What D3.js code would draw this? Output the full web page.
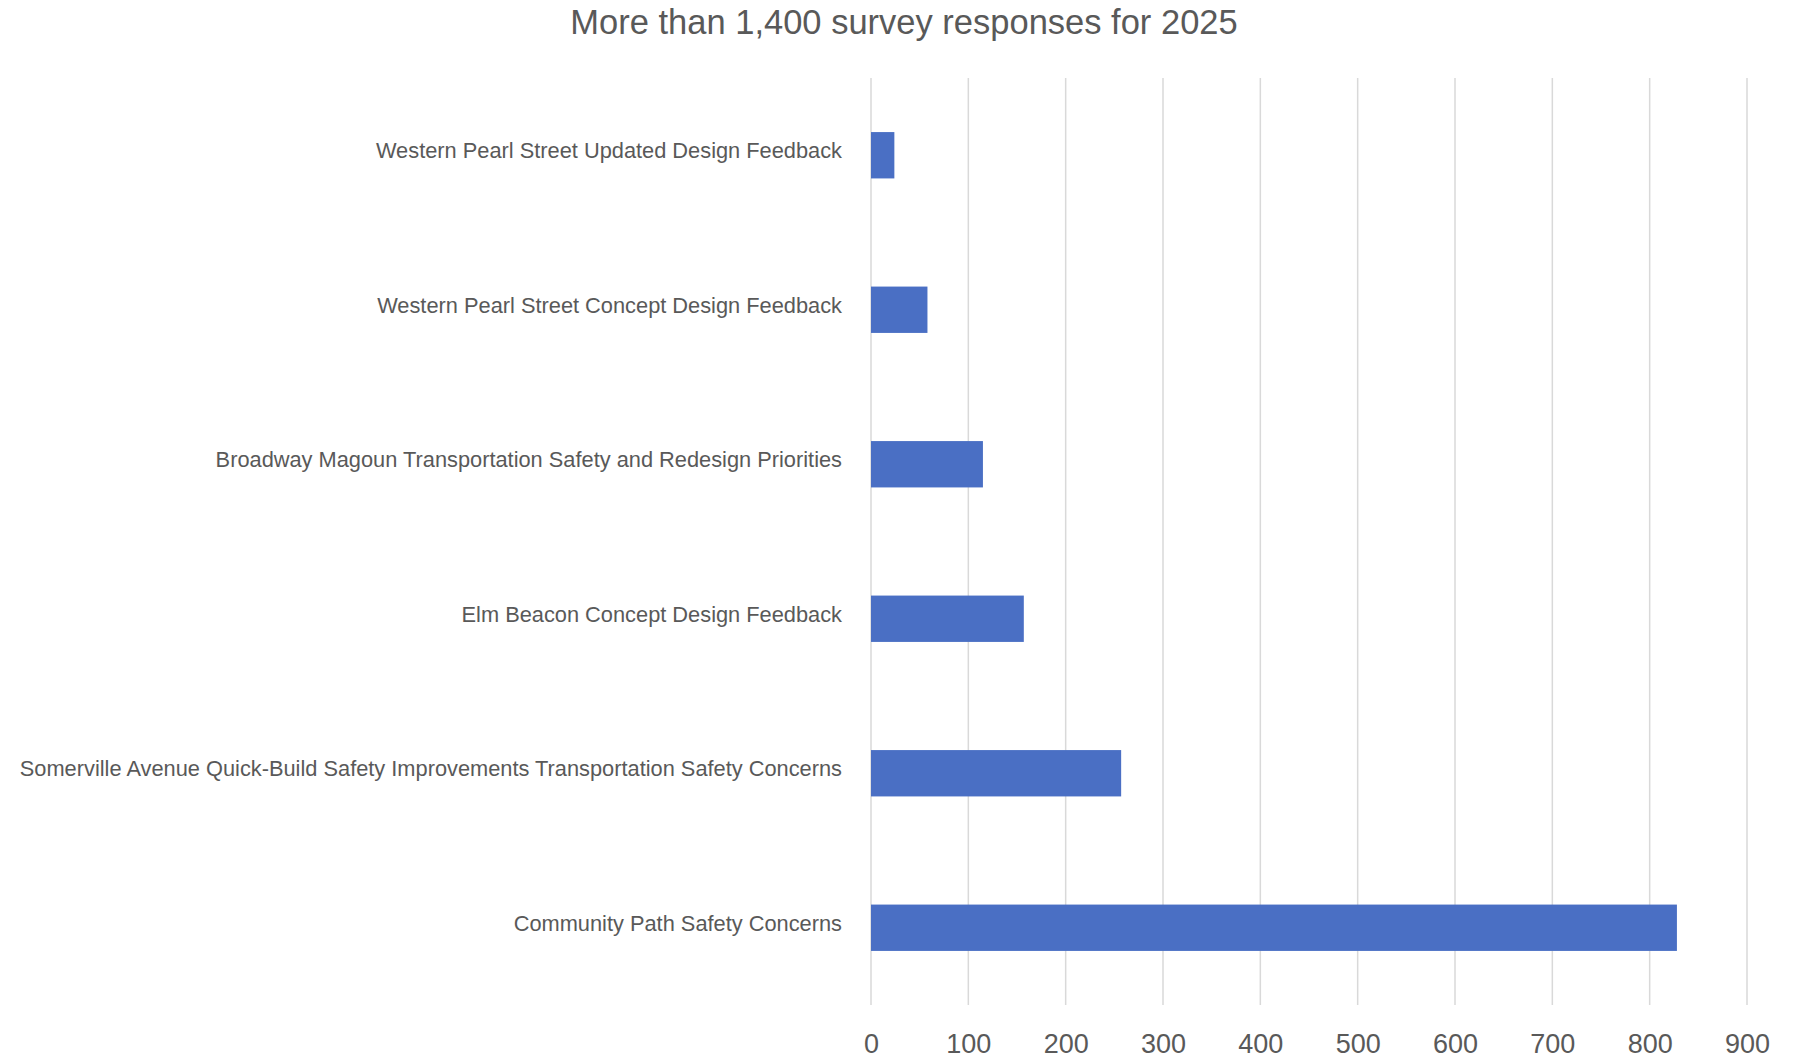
<!DOCTYPE html>
<html>
<head>
<meta charset="utf-8">
<script src="https://cdn.jsdelivr.net/npm/d3@7"></script>
<style>
	body { margin: 0; background: #fff; }
	text { font-family: "Liberation Sans", Arial, sans-serif; }
</style>
</head>
<body>
<script>
let categories = [
	'Western Pearl Street Updated Design Feedback',
	'Western Pearl Street Concept Design Feedback',
	'Broadway Magoun Transportation Safety and Redesign Priorities',
	'Elm Beacon Concept Design Feedback',
	'Somerville Avenue Quick-Build Safety Improvements Transportation Safety Concerns',
	'Community Path Safety Concerns'
]
let responses = [24, 58, 115, 157, 257, 828]
let xTicks = [0, 100, 200, 300, 400, 500, 600, 700, 800, 900]
let title = 'More than 1,400 survey responses for 2025'

let W = 1798, H = 1061
let x0 = 871, x1 = 1747
let y0 = 78, y1 = 1005

let svg = d3.select('body').append('svg')
	.attr('width', W)
	.attr('height', H)

let x = d3.scaleLinear().domain([0, 900]).range([x0, x1])
let y = d3.scaleBand().domain(categories).range([y0, y1]).paddingInner(0.70).paddingOuter(0.35)

// gridlines
svg.append('g').selectAll('line').data(xTicks).join('line')
	.attr('x1', d => x(d)).attr('x2', d => x(d))
	.attr('y1', y0).attr('y2', y1)
	.attr('stroke', '#d9d9d9').attr('stroke-width', 1.5)

// bars
svg.append('g').selectAll('rect').data(responses).join('rect')
	.attr('x', x(0))
	.attr('y', (d, i) => y(categories[i]))
	.attr('width', d => x(d) - x(0))
	.attr('height', y.bandwidth())
	.attr('fill', '#4a6fc4')

// category labels
svg.append('g').selectAll('text').data(categories).join('text')
	.attr('x', x0 - 29)
	.attr('y', d => y(d) + y.bandwidth() / 2 - 3)
	.attr('text-anchor', 'end')
	.attr('dominant-baseline', 'middle')
	.attr('font-size', 21.8)
	.attr('fill', '#595959')
	.text(d => d)

// x axis tick labels
let xAxis = d3.axisBottom(x).tickValues(xTicks).tickSize(0).tickPadding(0)
let gx = svg.append('g').attr('transform', `translate(0, ${y1 + 29})`).call(xAxis)
gx.select('.domain').remove()
gx.selectAll('text')
	.attr('font-size', 27)
	.attr('font-family', '"Liberation Sans", Arial, sans-serif')
	.attr('fill', '#595959')

svg.append('text')
	.attr('x', 904).attr('y', 34)
	.attr('text-anchor', 'middle')
	.attr('font-size', 34.5)
	.attr('fill', '#595959')
	.text(title)
</script>
</body>
</html>
